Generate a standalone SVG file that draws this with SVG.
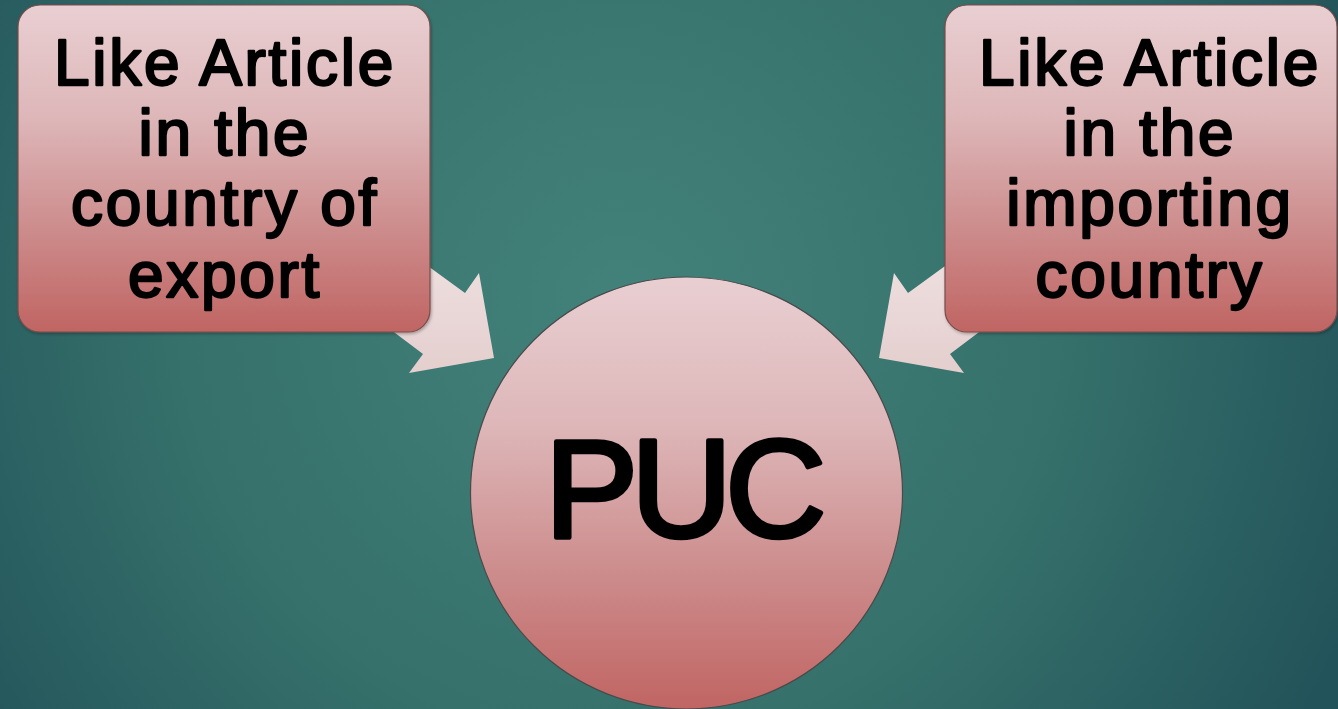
<svg xmlns="http://www.w3.org/2000/svg" width="1338" height="709" viewBox="0 0 1338 709">
<style>
.lbl{font-family:"Liberation Sans",Arial,sans-serif;font-weight:normal;fill:#000;stroke:#000;stroke-width:2.4;stroke-linejoin:round;text-anchor:middle;letter-spacing:2.7px}
.big{font-size:140px;stroke-width:4.5;letter-spacing:-7px}
.box{fill:url(#nodeGrad);stroke:#7a4c4c;stroke-width:1.2}
.arrow{fill:url(#arrowGrad);stroke:none}
</style>
<defs>
<radialGradient id="bg" cx="620" cy="300" r="800" gradientUnits="userSpaceOnUse">
<stop offset="0" stop-color="#42827a"/>
<stop offset="0.55" stop-color="#36716b"/>
<stop offset="1" stop-color="#22535a"/>
</radialGradient>
<linearGradient id="nodeGrad" x1="0" y1="0" x2="0" y2="1">
<stop offset="0" stop-color="#e9cfd2"/>
<stop offset="0.35" stop-color="#ddb6b8"/>
<stop offset="0.7" stop-color="#cc8a8a"/>
<stop offset="1" stop-color="#c06563"/>
</linearGradient>
<linearGradient id="arrowGrad" x1="0" y1="0" x2="0" y2="1">
<stop offset="0" stop-color="#f1e3e3"/>
<stop offset="1" stop-color="#e4cece"/>
</linearGradient>
<filter id="sh" x="-10%" y="-10%" width="120%" height="120%">
<feDropShadow dx="1" dy="1.5" stdDeviation="1.5" flood-color="#000" flood-opacity="0.3"/>
</filter>
</defs>
<rect width="1338" height="709" fill="url(#bg)"/>
<g id="connectors">
<polygon class="arrow" points="384,234 465,293 479,273 494,358 409,373 423,354 342,293"/>
<polygon class="arrow" points="989,234 908,293 894,273 879,358 964,373 950,354 1031,293"/>
</g>
<g id="node-export" filter="url(#sh)">
<rect class="box" x="18" y="5" width="412" height="327" rx="22"/>
<text class="lbl" font-size="64" x="225" y="85">Like Article</text>
<text class="lbl" font-size="64" x="225" y="155">in the</text>
<text class="lbl" font-size="64" x="225" y="225">country of</text>
<text class="lbl" font-size="64" x="225" y="297">export</text>
</g>
<g id="node-import" filter="url(#sh)">
<rect class="box" x="945" y="5" width="392" height="327" rx="22"/>
<text class="lbl" font-size="64" x="1150" y="85">Like Article</text>
<text class="lbl" font-size="64" x="1150" y="155">in the</text>
<text class="lbl" font-size="64" x="1150" y="225">importing</text>
<text class="lbl" font-size="64" x="1150" y="297">country</text>
</g>
<g id="node-puc">
<circle cx="686.5" cy="493" r="216" fill="url(#nodeGrad)" stroke="#4a4a4a" stroke-width="1.2"/>
<text class="lbl big" x="682" y="537">PUC</text>
</g>
</svg>
